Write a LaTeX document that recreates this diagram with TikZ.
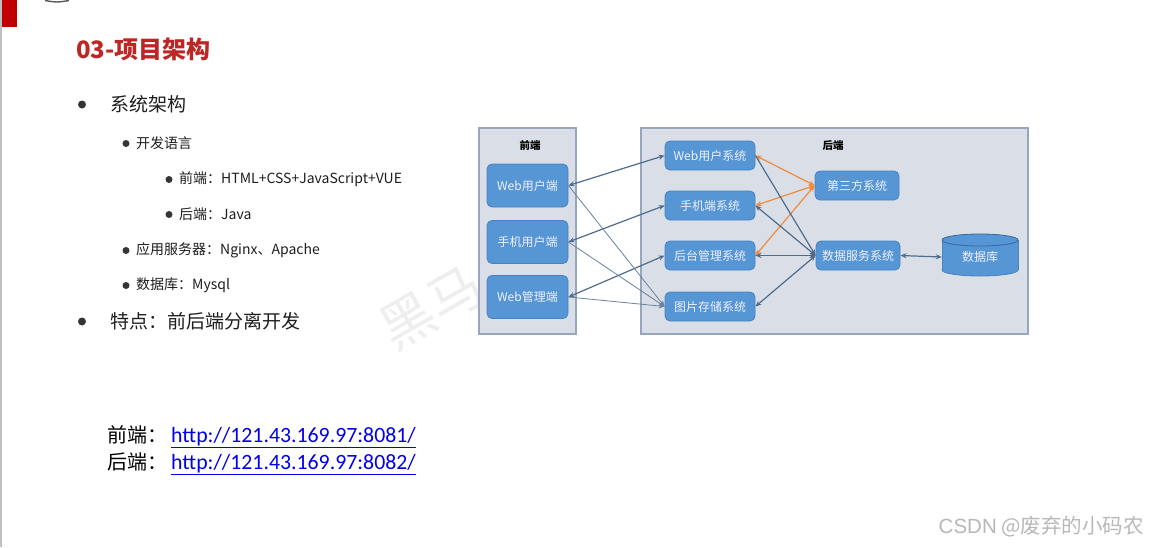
\documentclass[tikz,border=0pt]{standalone}
\usepackage{fontspec}
\setmainfont{Noto Sans CJK SC}
\newfontfamily\cjk{Noto Sans CJK SC}
\newfontfamily\calib{Carlito}
\newfontfamily\arialish{Liberation Sans}
\usetikzlibrary{arrows.meta}
\definecolor{titlered}{RGB}{190,38,38}
\definecolor{barred}{RGB}{192,0,0}
\definecolor{boxfill}{RGB}{218,223,231}
\definecolor{boxline}{RGB}{150,166,190}
\definecolor{nodefill}{RGB}{86,150,212}
\definecolor{nodeline}{RGB}{70,130,196}
\definecolor{conn}{RGB}{78,108,142}
\definecolor{orangec}{RGB}{240,138,60}
\definecolor{linkblue}{RGB}{0,0,235}
\definecolor{txt}{RGB}{30,30,30}
\definecolor{wm}{RGB}{238,238,238}
\tikzset{
  areabox/.style={draw=boxline, fill=boxfill, line width=1.2pt},
  sysbox/.style={draw=nodeline, fill=nodefill, rounded corners=5pt, text=white!94!blue,
    font=\fontsize{12}{14}\selectfont, inner sep=0pt, line width=0.8pt},
  areatitle/.style={font=\fontsize{10.5}{12}\selectfont\bfseries, text=black, inner sep=0pt},
  tip/.style={-{Stealth[length=6pt,width=5pt]}},
  tips/.style={{Stealth[length=6pt,width=5pt]}-{Stealth[length=6pt,width=5pt]}},
  bluec/.style={draw=conn, line width=1.2pt},
  thinc/.style={draw=conn!85, line width=0.8pt},
  orangeline/.style={draw=orangec, line width=1.2pt},
  lvlone/.style={anchor=west, inner sep=0pt, text=txt, font=\fontsize{19}{21}\selectfont},
  lvltwo/.style={anchor=west, inner sep=0pt, text=txt, font=\fontsize{14}{16}\selectfont},
  bullet/.style={circle, fill=txt!90, inner sep=0pt},
}
\begin{document}
\begin{tikzpicture}[x=1pt, y=-1pt]
\useasboundingbox (0,0) rectangle (1150,547);
\fill[white] (0,0) rectangle (1150,547);
% page decorations
\fill[barred] (0,0) rectangle (17,27);
\draw[black!25, line width=1.5pt] (0.8,0) -- (0.8,547);
\draw[black!65, line width=1.4pt] (45,0.5) .. controls (57,2.5) .. (69,0.5);
% watermark
\node[text=wm, rotate=30, font=\fontsize{54}{56}\selectfont, inner sep=0pt] (wmark) at (432,308) {黑马};
% title
\node[anchor=west, inner sep=0pt, text=titlered, font=\fontsize{24}{26}\selectfont\bfseries] (title) at (76,49) {03-项目架构};
% list
\node[bullet, minimum size=8pt] (b1) at (82,104.5) {};
\node[lvlone] (l1) at (110,104) {系统架构};
\node[bullet, minimum size=7pt] (b2) at (126,143.5) {};
\node[lvltwo] (l2) at (136,143) {开发语言};
\node[bullet, minimum size=7pt] (b3) at (169,179.5) {};
\node[lvltwo] (l3) at (179,179) {前端：HTML+CSS+JavaScript+VUE};
\node[bullet, minimum size=7pt] (b4) at (169,214.5) {};
\node[lvltwo] (l4) at (179,214) {后端：Java};
\node[bullet, minimum size=7pt] (b5) at (126,250.5) {};
\node[lvltwo] (l5) at (136,250) {应用服务器：Nginx、Apache};
\node[bullet, minimum size=7pt] (b6) at (126,285.5) {};
\node[lvltwo] (l6) at (136,285) {数据库：Mysql};
\node[bullet, minimum size=8pt] (b7) at (82,321.5) {};
\node[lvlone] (l7) at (110,321) {特点：前后端分离开发};
% links
\node[anchor=west, inner sep=0pt, text=black, font=\fontsize{20}{22}\selectfont] (k1) at (107,437) {前端：\hspace{4pt}\textcolor{linkblue}{\calib\fontsize{21.8}{23}\selectfont\underline{http://121.43.169.97:8081/}}};
\node[anchor=west, inner sep=0pt, text=black, font=\fontsize{20}{22}\selectfont] (k2) at (107,464) {后端：\hspace{4pt}\textcolor{linkblue}{\calib\fontsize{21.8}{23}\selectfont\underline{http://121.43.169.97:8082/}}};
% CSDN watermark
\node[anchor=east, inner sep=0pt, text=black!28, font=\fontsize{20.5}{22}\selectfont] (csdn) at (1144,527) {{\arialish CSDN} @废弃的小码农};
% diagram areas
\draw[areabox] (479,128) rectangle (576,334);
\draw[areabox] (641,128) rectangle (1028,334);
\node[areatitle] (fet) at (530,146) {前端};
\node[areatitle] (bet) at (833,146) {后端};
% front nodes
\node[sysbox, minimum width=81pt, minimum height=43pt] (wu) at (527.5,185.5) {Web用户端};
\node[sysbox, minimum width=81pt, minimum height=43pt] (mu) at (527.5,242) {手机用户端};
\node[sysbox, minimum width=81pt, minimum height=43pt] (wa) at (527.5,297) {Web管理端};
% back nodes
\node[sysbox, minimum width=90pt, minimum height=29pt] (ws) at (710,155.5) {Web用户系统};
\node[sysbox, minimum width=90pt, minimum height=29pt] (ms) at (710,205.5) {手机端系统};
\node[sysbox, minimum width=90pt, minimum height=29pt] (bs) at (710,255.5) {后台管理系统};
\node[sysbox, minimum width=90pt, minimum height=29pt] (ps) at (710,306.5) {图片存储系统};
\node[sysbox, minimum width=84pt, minimum height=29pt] (tp) at (857,185.5) {第三方系统};
\node[sysbox, minimum width=84pt, minimum height=29pt] (ds) at (858,255.5) {数据服务系统};
% database cylinder
\fill[nodefill, draw=nodeline, line width=0.8pt] (980,270) ellipse [x radius=38, y radius=6];
\fill[nodefill] (942,240) rectangle (1018,270);
\draw[nodeline, line width=0.8pt] (942,240) -- (942,270) (1018,240) -- (1018,270);
\filldraw[fill=nodefill, draw=nodeline!80!black, line width=0.8pt] (980,240) ellipse [x radius=38, y radius=6];
\node[text=white!94!blue, font=\fontsize{12}{14}\selectfont, inner sep=0pt, minimum width=76pt, minimum height=42pt] (db) at (980,257) {数据库};
% front-back connectors
\draw[bluec, tips] (wu.east) -- (ws.west);
\draw[bluec, tips] (mu.east) -- (ms.west);
\draw[bluec, tips] (wa.east) -- (bs.west);
\draw[thinc, tip] (wu.east) -- (ps.west);
\draw[thinc, tip] (mu.east) -- (ps.west);
\draw[thinc, tip] (wa.east) -- (ps.west);
% third party
\draw[orangeline, tips] (ws.east) -- (tp.west);
\draw[orangeline, tips] (ms.east) -- (tp.west);
\draw[orangeline, tips] (bs.east) -- (tp.west);
% data service
\draw[bluec, tip] (ws.east) -- (ds.west);
\draw[bluec, tips] (ms.east) -- (ds.west);
\draw[bluec, tips] (bs.east) -- (ds.west);
\draw[bluec, tips] (ps.east) -- (ds.west);
\draw[bluec, tips] (ds.east) -- (db.west);
\end{tikzpicture}
\end{document}
